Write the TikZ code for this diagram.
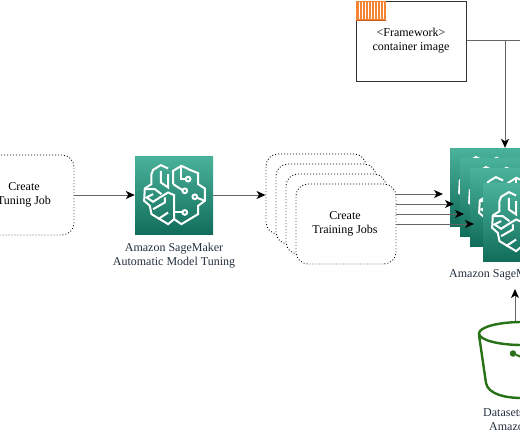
\documentclass[tikz,border=0pt]{standalone}
\usepackage{fontspec}
\setmainfont{Liberation Serif}
\usepackage{xcolor}
\usetikzlibrary{arrows.meta,shapes.geometric}
\definecolor{icontop}{HTML}{4AB29A}
\definecolor{iconbot}{HTML}{116D5B}
\definecolor{labelink}{HTML}{232F3E}
\definecolor{bucketgreen}{HTML}{277116}
\definecolor{tagorange}{HTML}{F58534}
\definecolor{tagedge}{HTML}{D05C17}
\tikzset{
flow/.style={draw=black!60,line width=1pt,-{Stealth[length=9pt,width=8pt,inset=2.5pt,black]}},
plain/.style={draw=black!60,line width=1pt},
dotbox/.style={draw,fill=white,line width=.9pt,dash pattern=on .9pt off 2.1pt,rounded corners=12pt,minimum width=100pt,minimum height=80pt,inner sep=0pt,align=center},
iconbox/.style={top color=icontop,bottom color=iconbot,minimum size=78pt,inner sep=0pt},
brain/.style={draw=white,line width=2pt},
caption/.style={text=labelink,inner sep=0pt,align=center}
}
\newcommand{\brainicon}[1]{
\begin{scope}[shift={(#1.north west)},x=.3333pt,y=-.3333pt,brain]
\draw (115,85)--(115,45)--(140,30)--(165,42)--(190,52)--(190,85)--(210,98)--(210,135)--(190,150)--(190,175)--(165,190)--(140,205)--(118,190)--(118,115);
\draw (115,85)--(143,103);
\draw (153,70)--(138,70)--(138,30);
\draw (187,126)--(210,135);
\draw (143,170)--(118,170);
\draw (100,38)--(78,28)--(55,42)--(50,55)--(50,85)--(30,98)--(28,135)--(45,150)--(50,175)--(75,190)--(100,205)--(118,190);
\draw (78,45)--(78,80)--(100,95)--(100,55);
\draw (30,100)--(60,100)--(80,115);
\draw (55,115)--(35,125)--(55,138)--(75,125)--(100,110)--(118,118);
\draw (55,160)--(90,140)--(90,125);
\draw (70,190)--(100,170);
\foreach \p/\q in {160/70,150/105,180/123,150/170}{
\draw (\p,\q) circle (7);
}
\end{scope}
}
\begin{document}
\begin{tikzpicture}[x=1pt,y=-1pt,font=\fontsize{12}{14}\selectfont]
\useasboundingbox (0,0) rectangle (520,434);
\clip (0,0) rectangle (520,434);
\node[dotbox] at (24,195) (tuningjob){};
\node[inner sep=0pt,align=center] at (24,194.5) (tuninglabel){Create\\Tuning Job};
\node[iconbox] at (174,195) (tuner){};
\brainicon{tuner}
\node[caption] at (174,255.5) (tunerlabel){Amazon SageMaker\\Automatic Model Tuning};
\foreach \i/\x/\y in {1/316/194,2/326/204,3/336/214,4/346/224}{
\node[dotbox] at (\x,\y) (train\i){};
}
\node[inner sep=0pt,align=center] at (345,224) (trainlabel){Create\\Training Jobs};
\foreach \i/\x/\y in {1/489/187,2/499/197,3/509/207,4/522/222}{
\node[iconbox] at (\x,\y) (estimator\i){};
\brainicon{estimator\i}
}
\node[caption,anchor=west] at (449,275) (estimatorlabel){Amazon SageMaker};
\node[draw=black!80,line width=1pt,minimum width=110pt,minimum height=80pt,inner sep=0pt,align=center] at (411,41) (framework){<Framework>\\container image};
\node[fill=tagorange,minimum width=30pt,minimum height=19pt,inner sep=0pt] at (371,10.5) (imagetag){};
\foreach \x in {359,362,...,383}{
\draw[white,line width=.9pt] (\x,2) -- (\x,19);
}
\draw[tagedge,line width=1pt] (imagetag.south west) -- (imagetag.south east);
\coordinate (fwjoin) at (505,40);
\coordinate (fwend) at (520,40);
\draw[plain] (framework.east |- fwjoin) -- (fwend);
\draw[flow] (fwjoin) -- (fwjoin |- estimator1.north);
\draw[flow] (tuningjob.east) -- (tuner.west);
\draw[flow] (tuner.east) -- (train1.west |- tuner.east);
\foreach \i/\x/\y in {1/443/194,2/454/204,3/464/214,4/474/224}{
\coordinate (jobout\i) at (396,\y);
\coordinate (jobin\i) at (\x,\y);
\draw[flow] (jobout\i) -- (jobin\i);
}
\node[draw=bucketgreen,line width=2.4pt,ellipse,minimum width=86pt,minimum height=23pt,inner sep=0pt] at (522,333.5) (bucket){};
\coordinate (bucketleft) at (479,335);
\coordinate (bucketbase) at (522,398);
\draw[bucketgreen,line width=2.4pt] (bucketleft) -- (486,383) .. controls (488,394) and (505,398) .. (bucketbase);
\node[fill=bucketgreen,circle,minimum size=6.5pt,inner sep=0pt] at (513,353.5) (bucketdot){};
\coordinate (bucketclaw) at (526,359);
\draw[bucketgreen,line width=2pt] (bucketdot) -- (bucketclaw);
\coordinate (bucketout) at (515,321);
\coordinate (estimatorin) at (515,289);
\draw[flow] (bucketout) -- (estimatorin);
\node[caption,anchor=west] at (483,413) (datasetlabel){Datasets};
\node[caption,anchor=west] at (489,427) (storelabel){Amazon};
\end{tikzpicture}
\end{document}
